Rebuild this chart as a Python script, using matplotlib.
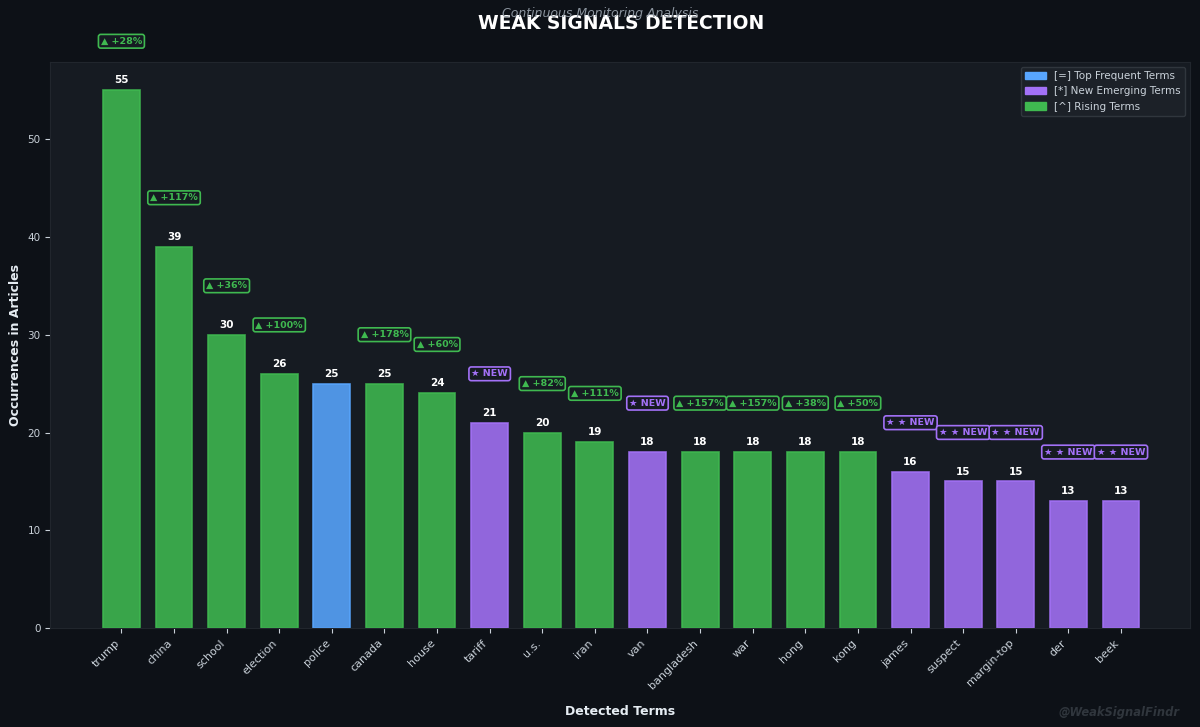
import matplotlib.pyplot as plt
from matplotlib.patches import Patch

terms = ["trump", "china", "school", "election", "police", "canada", "house", "tariff",
         "u.s.", "iran", "van", "bangladesh", "war", "hong", "kong", "james", "suspect",
         "margin-top", "der", "beek"]
counts = [55, 39, 30, 26, 25, 25, 24, 21, 20, 19, 18, 18, 18, 18, 18, 16, 15, 15, 13, 13]
kinds = ["rising", "rising", "rising", "rising", "top", "rising", "rising", "new",
         "rising", "rising", "new", "rising", "rising", "rising", "rising", "new", "new",
         "new", "new", "new"]
badges = ["▲ +28%", "▲ +117%", "▲ +36%", "▲ +100%", "", "▲ +178%", "▲ +60%", "★ NEW",
          "▲ +82%", "▲ +111%", "★ NEW", "▲ +157%", "▲ +157%", "▲ +38%", "▲ +50%",
          "★ ★ NEW", "★ ★ NEW", "★ ★ NEW", "★ ★ NEW", "★ ★ NEW"]

colors = {"top": "#58a6ff", "new": "#a371f7", "rising": "#3fb950"}
fig_bg = "#0d1117"
ax_bg = "#161b22"

fig = plt.figure(figsize=(12, 7.27), dpi=100, facecolor=fig_bg)
ax = fig.add_axes([0.042, 0.136, 0.95, 0.779])
ax.set_facecolor(ax_bg)

x = range(len(terms))
bar_cols = [colors[k] for k in kinds]
ax.bar(x, counts, width=0.7, color=bar_cols, alpha=0.88, edgecolor=bar_cols, linewidth=1.2)

for i, (c, b, k) in enumerate(zip(counts, badges, kinds)):
    ax.text(i, c + 0.5, str(c), ha="center", va="bottom", color="white",
            fontsize=7.5, fontweight="bold")
    if b:
        col = colors[k]
        ax.text(i, c + 5, b, ha="center", va="center", color=col, fontsize=6.8,
                fontweight="bold", clip_on=False,
                bbox=dict(boxstyle="round,pad=0.25", facecolor=ax_bg, edgecolor=col, linewidth=1.2))

ax.set_xlim(-1.35, 20.32)
ax.set_ylim(0, 57.9)
ax.set_xticks(list(x))
ax.set_xticklabels(terms, rotation=45, ha="right", fontsize=8, color="#c9d1d9")
ax.tick_params(axis="y", colors="#c9d1d9", labelsize=7.5)
ax.tick_params(axis="x", colors="#c9d1d9")
for s in ax.spines.values():
    s.set_color("#21262d")

ax.set_xlabel("Detected Terms", color="#e6edf3", fontsize=9, fontweight="bold", labelpad=10)
ax.set_ylabel("Occurrences in Articles", color="#e6edf3", fontsize=9, fontweight="bold")

handles = [Patch(color=colors["top"], label="[=] Top Frequent Terms"),
           Patch(color=colors["new"], label="[*] New Emerging Terms"),
           Patch(color=colors["rising"], label="[^] Rising Terms")]
leg = ax.legend(handles=handles, loc="upper right", fontsize=7.5, facecolor="#1c2128",
                edgecolor="#30363d", labelcolor="#c9d1d9", framealpha=1)

fig.text(0.518, 0.967, "WEAK SIGNALS DETECTION", ha="center", va="center", color="white",
         fontsize=13.5, fontweight="bold")
fig.text(0.5, 0.982, "Continuous Monitoring Analysis", ha="center", va="center",
         color="#8b949e", fontsize=9, style="italic")
fig.text(0.983, 0.02, "@WeakSignalFindr", ha="right", va="center", color="#30363d",
         fontsize=8.3, fontweight="bold", style="italic")

plt.savefig("out.png", facecolor=fig_bg)
